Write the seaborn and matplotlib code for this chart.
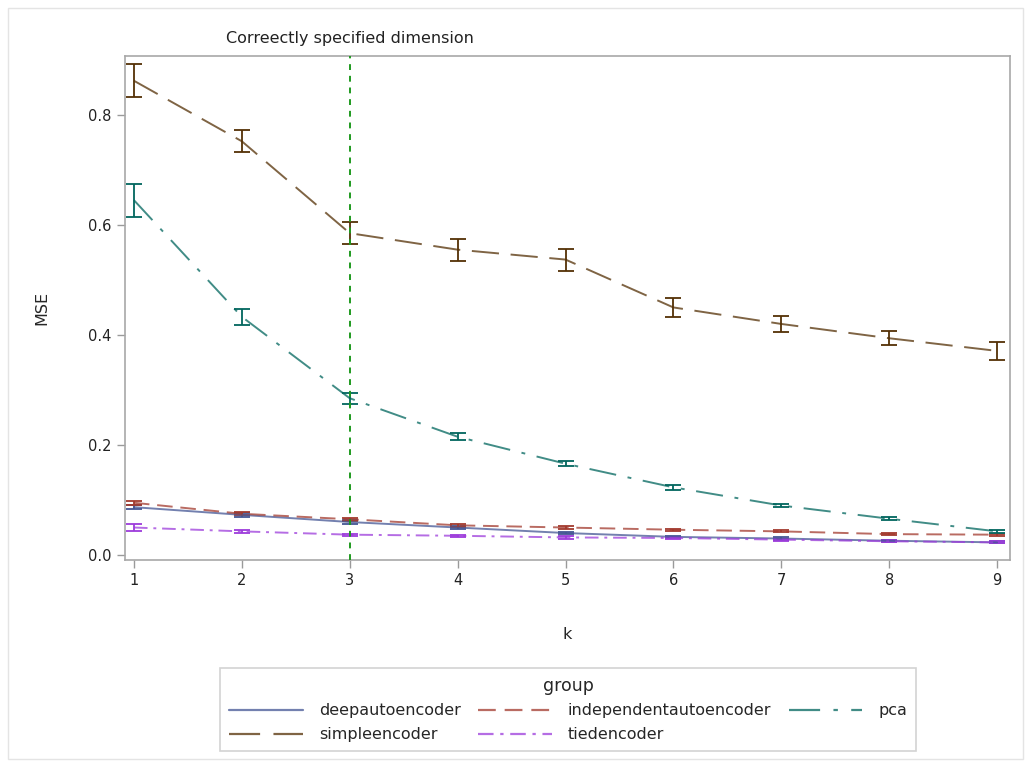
import numpy as np
import pandas as pd
import matplotlib
matplotlib.use("Agg")
import matplotlib.pyplot as plt
import seaborn as sns

# --- data ---
k = [1, 2, 3, 4, 5, 6, 7, 8, 9]
groups = ["deepautoencoder", "independentautoencoder", "pca", "simpleencoder", "tiedencoder"]

deep_mse = [0.087, 0.073, 0.060, 0.050, 0.040, 0.033, 0.030, 0.026, 0.023]
deep_err = [0.004, 0.003, 0.003, 0.002, 0.002, 0.002, 0.002, 0.002, 0.002]
indep_mse = [0.095, 0.075, 0.065, 0.054, 0.050, 0.046, 0.043, 0.038, 0.037]
indep_err = [0.004, 0.003, 0.003, 0.003, 0.003, 0.002, 0.002, 0.002, 0.002]
pca_mse = [0.645, 0.433, 0.285, 0.215, 0.166, 0.123, 0.090, 0.066, 0.043]
pca_err = [0.030, 0.015, 0.010, 0.006, 0.005, 0.004, 0.003, 0.003, 0.003]
simple_mse = [0.862, 0.752, 0.585, 0.555, 0.537, 0.450, 0.420, 0.394, 0.371]
simple_err = [0.030, 0.020, 0.020, 0.020, 0.020, 0.017, 0.015, 0.013, 0.017]
tied_mse = [0.050, 0.043, 0.037, 0.035, 0.032, 0.031, 0.028, 0.025, 0.023]
tied_err = [0.006, 0.003, 0.002, 0.002, 0.002, 0.002, 0.002, 0.002, 0.002]

means = [deep_mse, indep_mse, pca_mse, simple_mse, tied_mse]
errs = [deep_err, indep_err, pca_err, simple_err, tied_err]

df = pd.DataFrame({
    "k": k * len(groups),
    "MSE": sum(means, []),
    "err": sum(errs, []),
    "group": [g for g in groups for _ in k],
})

colors = {
    "deepautoencoder": "#445694",
    "independentautoencoder": "#A23A2E",
    "pca": "#01665E",
    "simpleencoder": "#543005",
    "tiedencoder": "#9D3CDB",
}
dashes = {
    "deepautoencoder": "",
    "independentautoencoder": (8, 4),
    "pca": (14, 6, 2, 6),
    "simpleencoder": (14, 6),
    "tiedencoder": (7, 3, 1.5, 3),
}

sns.set_style("ticks")
plt.rcParams["font.family"] = ["DejaVu Sans"]

fig = plt.figure(figsize=(10.32, 7.67), dpi=100)
ax = fig.add_axes([0.1211, 0.2699, 0.8576, 0.6571])

# error bars first so lines sit on top
for g, m, e in zip(groups, means, errs):
    ax.errorbar(k, m, yerr=e, fmt="none", ecolor=colors[g], elinewidth=1.3,
                capsize=5.5, capthick=1.3, zorder=2)

sns.lineplot(data=df, x="k", y="MSE", hue="group", style="group",
             palette=colors, dashes=dashes, hue_order=groups, style_order=groups,
             linewidth=1.4, alpha=0.75, ax=ax, zorder=3, legend=False)

ax.axvline(3, color="#1f9a1f", linestyle=(0, (3, 3)), linewidth=1.4, zorder=4)
ax.text(3, 1.02, "Correectly specified dimension", transform=ax.get_xaxis_transform(),
        ha="center", va="bottom", fontsize=11.5, color="#222222")

ax.set_xlim(0.917, 9.12)
ax.set_ylim(-0.009, 0.907)
ax.set_xticks(k)
ax.set_yticks([0.0, 0.2, 0.4, 0.6, 0.8])
ax.set_yticklabels(["0.0", "0.2", "0.4", "0.6", "0.8"])
ax.set_xlabel("k", fontsize=11.5, labelpad=28)
ax.set_ylabel("MSE", fontsize=11.5, labelpad=28)
ax.tick_params(axis="both", colors="#9a9a9a", labelcolor="#222222", labelsize=10.5,
               length=6, width=1)
for s in ax.spines.values():
    s.set_color("#a8a8a8")
    s.set_linewidth(1.2)

# legend in SAS row order: build handles and reorder for column-major filling
handles = {}
for g in groups:
    handles[g] = plt.Line2D([], [], color=colors[g], alpha=0.75, linewidth=1.6,
                            dashes=dashes[g] if dashes[g] else (None, None))
order = ["deepautoencoder", "simpleencoder", "independentautoencoder", "tiedencoder", "pca"]
leg = fig.legend([handles[g] for g in order], order, title="group", ncol=3,
                 loc="center", bbox_to_anchor=(0.5505, 0.075), frameon=True,
                 fontsize=11.5, title_fontsize=12.5, handlelength=4.6,
                 columnspacing=1.1, handletextpad=1.0, labelspacing=0.55,
                 borderpad=0.55, borderaxespad=0, fancybox=False)
leg.get_frame().set_edgecolor("#c8c8c8")
leg.get_frame().set_linewidth(1.2)

# outer frame around the whole graph
fig.patches.append(plt.Rectangle((0.008, 0.01), 0.983, 0.98, transform=fig.transFigure,
                                 fill=False, edgecolor="#e4e4e4", linewidth=1))

fig.savefig("out.png", dpi=100)
